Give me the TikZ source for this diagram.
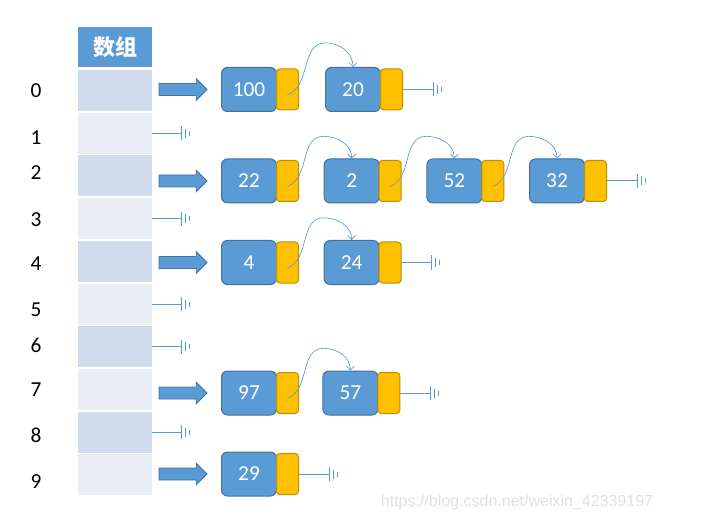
\documentclass[tikz,border=0pt]{standalone}
\usepackage{fontspec}
\setmainfont{Carlito}
\newfontfamily\cjk{Noto Sans CJK SC}
\newfontfamily\wmfont{Liberation Sans}
\usetikzlibrary{positioning,shapes.arrows,arrows.meta}
\definecolor{nodeblue}{HTML}{5B9BD5}
\definecolor{nodeedge}{HTML}{41719C}
\definecolor{ptryellow}{HTML}{FFC000}
\definecolor{ptredge}{HTML}{BF9000}
\definecolor{celldark}{HTML}{D0DBEE}
\definecolor{celllight}{HTML}{E9EDF6}
\tikzset{
  head/.style={fill=nodeblue, text=white, minimum width=55.5pt, minimum height=30pt, inner sep=0pt, font=\cjk\bfseries\fontsize{16.5}{18}\selectfont},
  cell/.style={minimum width=55.5pt, minimum height=30.75pt, inner sep=0pt},
  idx/.style={font=\fontsize{16}{18}\selectfont, inner sep=0pt},
  bigarrow/.style={single arrow, fill=nodeblue, draw=nodeedge, line width=0.6pt, minimum height=36pt, inner sep=4.2pt, single arrow head extend=3.5pt, single arrow head indent=0pt},
  datanode/.style={draw=nodeedge, fill=nodeblue, line width=0.75pt, rounded corners=4.5pt, minimum width=41.25pt, minimum height=33pt, inner sep=0pt, text=white, font=\fontsize{16}{18}\selectfont},
  ptrnode/.style={draw=ptredge, fill=ptryellow, line width=0.75pt, rounded corners=2.5pt, minimum width=16.5pt, minimum height=30.75pt, inner sep=0pt},
  nextlink/.style={draw=nodeblue, line width=0.5pt, -{Straight Barb[length=3pt,width=6pt]}},
  nilline/.style={draw=nodeblue, line width=0.75pt},
  gnd/.pic={\draw[nilline] (0,-7) -- (0,7) (4,-4.5) -- (4,4.5) (8,-2.5) -- (8,2.5);},
  wm/.style={font=\wmfont\fontsize{12}{14}\selectfont, text=black!12, inner sep=0pt}
}
\begin{document}
\begin{tikzpicture}[x=0.75pt, y=0.75pt]
\useasboundingbox (0,0) rectangle (724,-513);
% array
\node[head] (head) at (115,-47) {数组};
\node[cell, fill=celldark] (c0) at (115,-90.5) {};
\node[cell, fill=celllight] (c1) at (115,-133.2) {};
\node[cell, fill=celldark] (c2) at (115,-175.9) {};
\node[cell, fill=celllight] (c3) at (115,-218.6) {};
\node[cell, fill=celldark] (c4) at (115,-261.3) {};
\node[cell, fill=celllight] (c5) at (115,-304) {};
\node[cell, fill=celldark] (c6) at (115,-346.7) {};
\node[cell, fill=celllight] (c7) at (115,-389.4) {};
\node[cell, fill=celldark] (c8) at (115,-432.1) {};
\node[cell, fill=celllight] (c9) at (115,-474.8) {};
% indices
\node[idx] (i0) at (36,-91) {0};
\node[idx] (i1) at (36,-138) {1};
\node[idx] (i2) at (36,-173) {2};
\node[idx] (i3) at (36,-220) {3};
\node[idx] (i4) at (36,-264) {4};
\node[idx] (i5) at (36,-310) {5};
\node[idx] (i6) at (36,-345) {6};
\node[idx] (i7) at (36,-390) {7};
\node[idx] (i8) at (36,-435) {8};
\node[idx] (i9) at (36,-482) {9};
% empty slots
\draw[nilline] (c1.east) -- ++(29,0) pic{gnd};
\draw[nilline] (c3.east) -- ++(29,0) pic{gnd};
\draw[nilline] (c5.east) -- ++(29,0) pic{gnd};
\draw[nilline] (c6.east) -- ++(29,0) pic{gnd};
\draw[nilline] (c8.east) -- ++(29,0) pic{gnd};
% slot 0
\node[bigarrow] (a0) at (180,-89.5) {};
\node[datanode] (k100) at (249,-89.5) {100};
\node[ptrnode, right=-0.75pt of k100] (p100) {};
\node[datanode, right=19.5pt of p100] (k20) {20};
\node[ptrnode, right=-0.75pt of k20] (p20) {};
\draw[nextlink] ([yshift=-4pt]p100.center) to[out=20,in=180] ++(38,52) to[out=0,in=90] (k20.north);
\draw[nilline] (p20.east) -- ++(30,0) pic{gnd};
% slot 2
\node[bigarrow] (a2) at (180,-181) {};
\node[datanode] (k22) at (249,-181) {22};
\node[ptrnode, right=-0.75pt of k22] (p22) {};
\node[datanode, right=18.5pt of p22] (k2) {2};
\node[ptrnode, right=-0.75pt of k2] (p2) {};
\node[datanode, right=18.5pt of p2] (k52) {52};
\node[ptrnode, right=-0.75pt of k52] (p52) {};
\node[datanode, right=18.5pt of p52] (k32) {32};
\node[ptrnode, right=-0.75pt of k32] (p32) {};
\draw[nextlink] ([yshift=-4pt]p22.center) to[out=20,in=180] ++(36,50) to[out=0,in=90] (k2.north);
\draw[nextlink] ([yshift=-4pt]p2.center) to[out=20,in=180] ++(36,50) to[out=0,in=90] (k52.north);
\draw[nextlink] ([yshift=-4pt]p52.center) to[out=20,in=180] ++(36,50) to[out=0,in=90] (k32.north);
\draw[nilline] (p32.east) -- ++(30,0) pic{gnd};
% slot 4
\node[bigarrow] (a4) at (180,-262.5) {};
\node[datanode] (k4) at (249,-262.5) {4};
\node[ptrnode, right=-0.75pt of k4] (p4) {};
\node[datanode, right=18.5pt of p4] (k24) {24};
\node[ptrnode, right=-0.75pt of k24] (p24) {};
\draw[nextlink] ([yshift=-4pt]p4.center) to[out=20,in=180] ++(36,50) to[out=0,in=90] (k24.north);
\draw[nilline] (p24.east) -- ++(30,0) pic{gnd};
% slot 7
\node[bigarrow] (a7) at (180,-393) {};
\node[datanode] (k97) at (249,-393) {97};
\node[ptrnode, right=-0.75pt of k97] (p97) {};
\node[datanode, right=17.5pt of p97] (k57) {57};
\node[ptrnode, right=-0.75pt of k57] (p57) {};
\draw[nextlink] ([yshift=-4pt]p97.center) to[out=20,in=180] ++(36,50) to[out=0,in=90] (k57.north);
\draw[nilline] (p57.east) -- ++(30,0) pic{gnd};
% slot 9
\node[bigarrow] (a9) at (180,-474) {};
\node[datanode] (k29) at (249,-474) {29};
\node[ptrnode, right=-0.75pt of k29] (p29) {};
\draw[nilline] (p29.east) -- ++(30,0) pic{gnd};
% watermark
\node[wm] (wm) at (517,-502) {https://blog.csdn.net/weixin\_42339197};
\end{tikzpicture}
\end{document}
